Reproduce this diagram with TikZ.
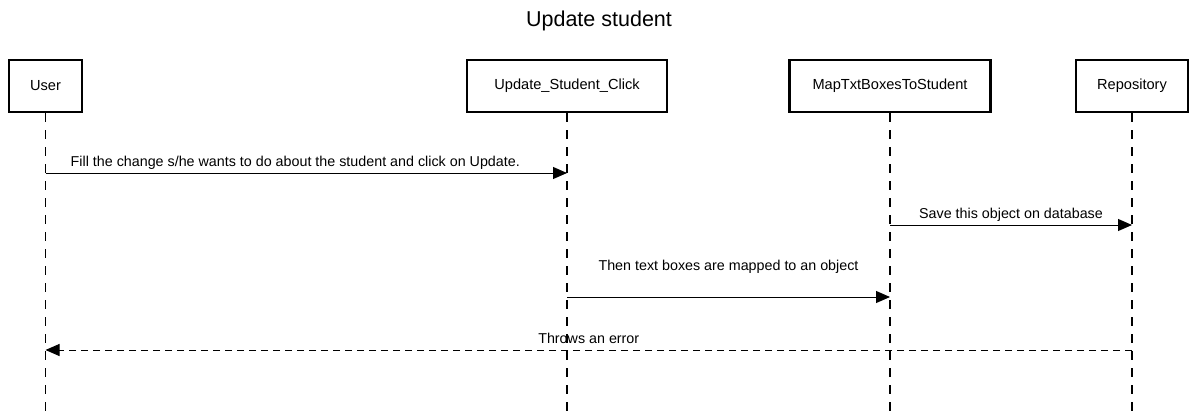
\documentclass[tikz,border=0pt]{standalone}
\usepackage{fontspec}
\setmainfont{Liberation Sans}
\usetikzlibrary{arrows.meta}
\begin{document}
\begin{tikzpicture}[x=1pt,y=-1pt,
  actor/.style={draw,line width=2.8pt,minimum height=52pt,font=\fontsize{14.6}{17}\selectfont,inner sep=0pt},
  lifeline/.style={line width=1.2pt,dash pattern=on 9pt off 8pt},
  msg/.style={line width=1pt,-{Triangle[length=14pt,width=12pt]}},
  ret/.style={line width=1pt,dash pattern=on 7pt off 5pt,-{Triangle[length=14pt,width=12pt]}},
  lbl/.style={font=\fontsize{14.3}{17}\selectfont,above,inner sep=3pt}]
\useasboundingbox (0,0) rectangle (1198,415);
\node[font=\fontsize{21.5}{25}\selectfont] (title) at (599,21) {Update student};
\node[actor,minimum width=73pt] (user) at (45.5,86) {User};
\node[actor,minimum width=200pt] (click) at (567,86) {Update\_Student\_Click};
\node[actor,minimum width=201pt] (map) at (890,86) {MapTxtBoxesToStudent};
\node[actor,minimum width=112pt] (repo) at (1132,86) {Repository};
\foreach \n/\x in {user/45.5,click/567,map/890,repo/1132}{
  \coordinate (\n-end) at (\x,415);
  \draw[lifeline] (\n.south) -- (\n-end);
}
\coordinate (u1) at (45.5,173); \coordinate (c1) at (567,173);
\coordinate (m2) at (890,225); \coordinate (r2) at (1132,225);
\coordinate (c3) at (567,297); \coordinate (m3) at (890,297);
\coordinate (r4) at (1132,350); \coordinate (u4) at (45.5,350);
\draw[msg] (u1) -- node[lbl,xshift=-11pt] {Fill the change s/he wants to do about the student and click on Update.} (c1);
\draw[msg] (m2) -- node[lbl] {Save this object on database} (r2);
\draw[msg] (c3) -- node[lbl,yshift=20pt] {Then text boxes are mapped to an object} (m3);
\draw[ret] (r4) -- node[lbl,pos=0.5,inner sep=3pt,yshift=3pt] {Throws an error} (u4);
\end{tikzpicture}
\end{document}
